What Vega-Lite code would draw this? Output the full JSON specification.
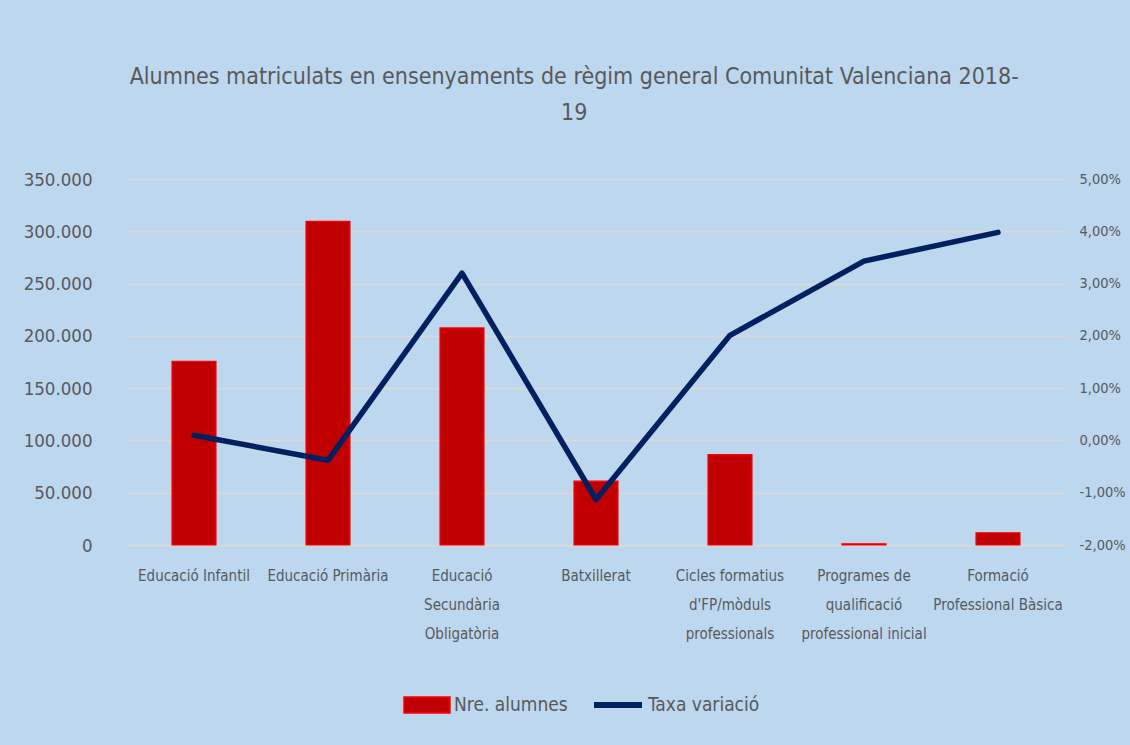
{
  "$schema": "https://vega.github.io/schema/vega-lite/v6.json",
  "width": 938,
  "height": 366,
  "autosize": {"type": "none"},
  "padding": {"left": 127, "top": 179, "right": 65, "bottom": 200},
  "background": "#BDD7EE",
  "config": {
    "locale": {"number": {"decimal": ",", "thousands": ".", "grouping": [3], "currency": ["", " €"], "minus": "-"}},
    "font": "DejaVu Sans Condensed",
    "view": {"stroke": null},
    "axis": {"labelColor": "#595959", "labelFont": "DejaVu Sans Condensed", "domain": false, "ticks": false}
  },
  "title": {
    "text": ["Alumnes matriculats en ensenyaments de règim general Comunitat Valenciana 2018-", "19"],
    "fontSize": 23,
    "fontWeight": "normal",
    "color": "#595959",
    "font": "DejaVu Sans Condensed",
    "lineHeight": 36,
    "anchor": "middle",
    "frame": "bounds",
    "offset": 45
  },
  "data": {
    "values": [
      {"nivell": "Educació Infantil", "alumnes": 175700, "taxa": 0.0010},
      {"nivell": "Educació Primària", "alumnes": 309500, "taxa": -0.0038},
      {"nivell": "Educació Secundària Obligatòria", "alumnes": 207600, "taxa": 0.0320},
      {"nivell": "Batxillerat", "alumnes": 61000, "taxa": -0.0113},
      {"nivell": "Cicles formatius d'FP/mòduls professionals", "alumnes": 86500, "taxa": 0.0201},
      {"nivell": "Programes de qualificació professional inicial", "alumnes": 1200, "taxa": 0.0343},
      {"nivell": "Formació Professional Bàsica", "alumnes": 11700, "taxa": 0.0398}
    ]
  },
  "encoding": {
    "x": {
      "field": "nivell",
      "type": "nominal",
      "sort": null,
      "scale": {"paddingInner": 0.672, "paddingOuter": 0.336},
      "axis": {
        "title": null,
        "labelAngle": 0,
        "labelFontSize": 15,
        "labelPadding": 23,
        "labelLineHeight": 29,
        "labelBaseline": "top",
        "labelLimit": 200,
        "labelExpr": "datum.label == 'Educació Secundària Obligatòria' ? ['Educació', 'Secundària', 'Obligatòria'] : datum.label == \"Cicles formatius d'FP/mòduls professionals\" ? ['Cicles formatius', \"d'FP/mòduls\", 'professionals'] : datum.label == 'Programes de qualificació professional inicial' ? ['Programes de', 'qualificació', 'professional inicial'] : datum.label == 'Formació Professional Bàsica' ? ['Formació', 'Professional Bàsica'] : datum.label"
      }
    }
  },
  "layer": [
    {
      "mark": {"type": "bar", "stroke": "#FF0000", "strokeWidth": 1.2},
      "encoding": {
        "y": {
          "field": "alumnes",
          "type": "quantitative",
          "scale": {"domain": [0, 350000], "nice": false},
          "axis": {
            "title": null,
            "orient": "left",
            "values": [0, 50000, 100000, 150000, 200000, 250000, 300000, 350000],
            "format": ",.0f",
            "labelFontSize": 18.5,
            "labelPadding": 35,
            "grid": true,
            "gridColor": "#D9D9D9",
            "gridWidth": 2
          }
        },
        "fill": {
          "datum": "Nre. alumnes",
          "scale": {"range": ["#C00000"]},
          "legend": {
            "title": null,
            "orient": "none",
            "legendX": 276,
            "legendY": 502,
            "symbolType": "M-1,-0.35L1,-0.35L1,0.35L-1,0.35Z",
            "symbolSize": 2116,
            "symbolStrokeColor": "#FF0000",
            "symbolStrokeWidth": 1.5,
            "symbolFillColor": "#C00000",
            "symbolOpacity": 1,
            "labelFontSize": 19,
            "labelColor": "#595959",
            "labelFont": "DejaVu Sans Condensed",
            "labelOffset": 3,
            "padding": 0
          }
        }
      }
    },
    {
      "mark": {"type": "line", "strokeWidth": 5.5, "strokeCap": "round", "strokeJoin": "round"},
      "encoding": {
        "y": {
          "field": "taxa",
          "type": "quantitative",
          "scale": {"domain": [-0.02, 0.05], "nice": false},
          "axis": {
            "title": null,
            "orient": "right",
            "values": [-0.02, -0.01, 0, 0.01, 0.02, 0.03, 0.04, 0.05],
            "format": ".2%",
            "labelFontSize": 14.5,
            "labelPadding": 14,
            "grid": false
          }
        },
        "stroke": {
          "datum": "Taxa variació",
          "scale": {"range": ["#002060"]},
          "legend": {
            "title": null,
            "orient": "none",
            "legendX": 464,
            "legendY": 499,
            "symbolType": "stroke",
            "symbolSize": 2304,
            "symbolStrokeWidth": 6,
            "labelFontSize": 19,
            "labelColor": "#595959",
            "labelFont": "DejaVu Sans Condensed",
            "labelOffset": 3,
            "padding": 0
          }
        }
      }
    }
  ],
  "resolve": {"scale": {"y": "independent", "fill": "independent", "stroke": "independent"}}
}
